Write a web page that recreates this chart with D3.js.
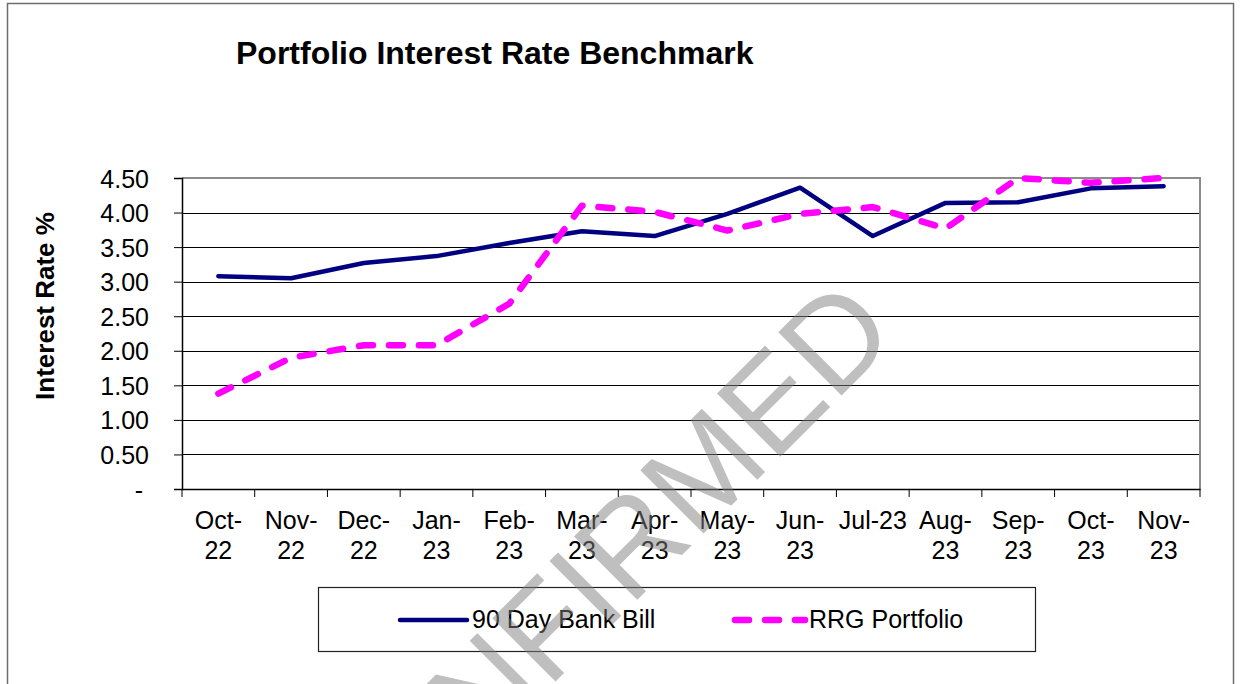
<!DOCTYPE html>
<html lang="en">
<head>
  <meta charset="UTF-8">
  <title>Portfolio Interest Rate Benchmark</title>
  <script src="https://d3js.org/d3.v7.min.js"></script>
  <style>
    body { margin: 0; background: #fff; font-family: "Liberation Sans", Arial, sans-serif; }
    text { fill: #000; }
  </style>
</head>
<body>
<div id="chart"></div>
<script>
const months = ["Oct-22", "Nov-22", "Dec-22", "Jan-23", "Feb-23", "Mar-23", "Apr-23",
                "May-23", "Jun-23", "Jul-23", "Aug-23", "Sep-23", "Oct-23", "Nov-23"];
const monthLabels = [["Oct-", "22"], ["Nov-", "22"], ["Dec-", "22"], ["Jan-", "23"], ["Feb-", "23"],
                     ["Mar-", "23"], ["Apr-", "23"], ["May-", "23"], ["Jun-", "23"], ["Jul-23"],
                     ["Aug-", "23"], ["Sep-", "23"], ["Oct-", "23"], ["Nov-", "23"]];
const bankBill = [3.08, 3.05, 3.27, 3.37, 3.56, 3.73, 3.66, 3.98, 4.36, 3.66, 4.14, 4.15, 4.35, 4.38];
const rrgPortfolio = [1.38, 1.90, 2.08, 2.08, 2.68, 4.10, 4.01, 3.74, 3.98, 4.08, 3.77, 4.50, 4.43, 4.50];
const yTicks = [0, 0.5, 1, 1.5, 2, 2.5, 3, 3.5, 4, 4.5];

const width = 1242, height = 684;
const plot = { left: 182, right: 1200, top: 178, bottom: 489 };

const svg = d3.select("#chart").append("svg")
  .attr("width", width)
  .attr("height", height);

// outer chart frame
svg.append("rect")
  .attr("x", 7.5).attr("y", 3.5)
  .attr("width", 1226).attr("height", 700)
  .attr("fill", "#fff")
  .attr("stroke", "#6e6e6e")
  .attr("stroke-width", 1.5);

svg.append("text")
  .attr("x", 236).attr("y", 64)
  .attr("font-size", 32)
  .attr("font-weight", "bold")
  .text("Portfolio Interest Rate Benchmark");

const x = d3.scaleBand().domain(months).range([plot.left, plot.right]);
const y = d3.scaleLinear().domain([0, 4.5]).range([plot.bottom, plot.top]);
const cx = m => x(m) + x.bandwidth() / 2;

// gridlines
svg.append("g").selectAll("line")
  .data(yTicks.filter(t => t > 0 && t < 4.5))
  .join("line")
  .attr("x1", plot.left).attr("x2", plot.right)
  .attr("y1", d => Math.round(y(d)) + 0.5).attr("y2", d => Math.round(y(d)) + 0.5)
  .attr("stroke", "#000")
  .attr("stroke-width", 1);

// plot area border (top / right)
svg.append("path")
  .attr("d", `M${plot.left},${plot.top}H${plot.right}V${plot.bottom}`)
  .attr("fill", "none")
  .attr("stroke", "#8c8c8c")
  .attr("stroke-width", 2);

// y axis
const yAxis = svg.append("g")
  .attr("transform", `translate(${plot.left},0)`)
  .call(d3.axisLeft(y).tickValues(yTicks).tickSize(8).tickPadding(25)
    .tickFormat(d => d === 0 ? "-" : d.toFixed(2)));
yAxis.select(".domain").attr("stroke", "#000").attr("stroke-width", 1.5);
yAxis.selectAll(".tick line").attr("stroke", "#000");
yAxis.selectAll(".tick text")
  .attr("font-family", "Liberation Sans, Arial, sans-serif")
  .attr("font-size", 25)
  .attr("fill", "#000")
  .attr("dy", "0.36em")
  .attr("dx", d => d === 0 ? -6 : 0);

// x axis
const xAxis = svg.append("g")
  .attr("transform", `translate(0,${plot.bottom})`)
  .call(d3.axisBottom(x).tickSize(0).tickFormat(""));
xAxis.select(".domain").attr("stroke", "#000").attr("stroke-width", 1.5);

svg.append("g").selectAll("line")
  .data(d3.range(months.length + 1))
  .join("line")
  .attr("x1", i => plot.left + i * x.step()).attr("x2", i => plot.left + i * x.step())
  .attr("y1", plot.bottom).attr("y2", plot.bottom + 8)
  .attr("stroke", "#000");

const xLab = svg.append("g").selectAll("text")
  .data(months)
  .join("text")
  .attr("x", d => cx(d))
  .attr("y", 529)
  .attr("text-anchor", "middle")
  .attr("font-size", 25);
xLab.each(function(d, i) {
  const t = d3.select(this);
  monthLabels[i].forEach((s, j) => {
    t.append("tspan").attr("x", cx(d)).attr("dy", j === 0 ? 0 : 30).text(s);
  });
});

svg.append("text")
  .attr("transform", `translate(54,306) rotate(-90)`)
  .attr("text-anchor", "middle")
  .attr("font-size", 26)
  .attr("font-weight", "bold")
  .text("Interest Rate %");

// series
const line = d3.line().x((d, i) => cx(months[i])).y(d => y(d));

svg.append("path")
  .datum(bankBill)
  .attr("d", line)
  .attr("fill", "none")
  .attr("stroke", "#000080")
  .attr("stroke-width", 4.5)
  .attr("stroke-linejoin", "round")
  .attr("stroke-linecap", "round");

svg.append("path")
  .datum(rrgPortfolio)
  .attr("d", line)
  .attr("fill", "none")
  .attr("stroke", "#ff00ff")
  .attr("stroke-width", 6.5)
  .attr("stroke-dasharray", "14,16")
  .attr("stroke-linejoin", "round")
  .attr("stroke-linecap", "round");

// legend
const legend = svg.append("g");
legend.append("rect")
  .attr("x", 318.5).attr("y", 587.5)
  .attr("width", 717).attr("height", 64)
  .attr("fill", "#fff")
  .attr("stroke", "#222")
  .attr("stroke-width", 1.2);
legend.append("line")
  .attr("x1", 400).attr("x2", 467).attr("y1", 620).attr("y2", 620)
  .attr("stroke", "#000080").attr("stroke-width", 4.5).attr("stroke-linecap", "round");
legend.append("text").attr("x", 472).attr("y", 628).attr("font-size", 25).text("90 Day Bank Bill");
legend.append("line")
  .attr("x1", 735).attr("x2", 805).attr("y1", 620).attr("y2", 620)
  .attr("stroke", "#ff00ff").attr("stroke-width", 6.5)
  .attr("stroke-dasharray", "14,16").attr("stroke-linecap", "round");
legend.append("text").attr("x", 809).attr("y", 628).attr("font-size", 25).text("RRG Portfolio");

// watermark
svg.append("text")
  .attr("transform", "translate(211,1026) rotate(-45)")
  .attr("font-size", 130)
  .style("fill", "#808080")
  .attr("opacity", 0.5)
  .text("UNCONFIRMED");
</script>
</body>
</html>
